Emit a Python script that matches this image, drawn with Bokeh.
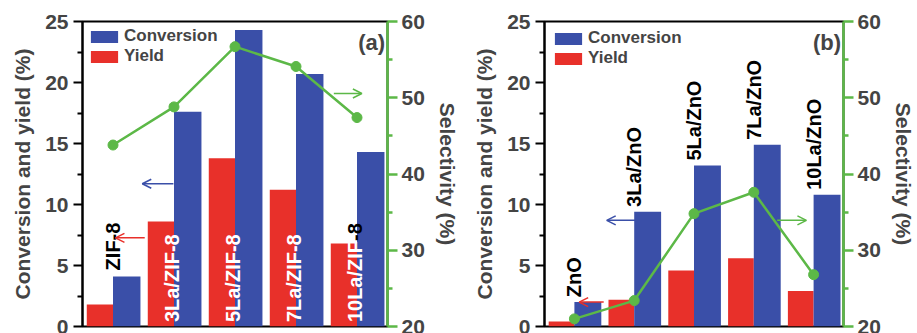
import numpy as np
from bokeh.plotting import figure
from bokeh.layouts import row
from bokeh.models import (Range1d, LinearAxis, Legend, LegendItem, Arrow, OpenHead,
                          Label, FixedTicker)
from bokeh.core.properties import value
from bokeh.embed import file_html
from bokeh.resources import INLINE

# ---- data ----
cats_a = ["ZIF-8", "3La/ZIF-8", "5La/ZIF-8", "7La/ZIF-8", "10La/ZIF-8"]
conv_a = [4.1, 17.6, 24.3, 20.7, 14.3]
yield_a = [1.8, 8.6, 13.8, 11.2, 6.8]
sel_a = [43.8, 48.8, 56.7, 54.1, 47.4]

cats_b = ["ZnO", "3La/ZnO", "5La/ZnO", "7La/ZnO", "10La/ZnO"]
conv_b = [2.0, 9.4, 13.2, 14.9, 10.8]
yield_b = [0.4, 2.2, 4.6, 5.6, 2.9]
sel_b = [21.0, 23.4, 34.8, 37.6, 26.8]

left_ticks = [0, 5, 10, 15, 20, 25]
right_ticks = [20, 30, 40, 50, 60]

# annotation arrows (x_start, y_start, x_end, y_end) on left-axis scale
arrows_a = {"blue": (0.99, 11.7, 0.48, 11.7), "red": (0.52, 7.27, 0.04, 7.27),
            "green": (3.62, 19.1, 4.08, 19.1)}
arrows_b = {"blue": (1.03, 8.7, 0.54, 8.7), "red": (0.49, 2.0, 0.08, 2.0),
            "green": (3.39, 8.7, 3.88, 8.7)}

BLUE = "#3a4fa8"
RED = "#e8302a"
GREEN = "#5cb847"
FONT = "Liberation Sans"


def panel(cats, conv, yld, sel, tag, arrows, width, bl, br, leg_margin, label_mode,
          r_label_standoff):
    p = figure(width=width, height=333, x_range=Range1d(-0.5, 4.5), y_range=Range1d(0, 25),
               output_backend="svg", toolbar_location=None,
               min_border_left=bl, min_border_right=br, min_border_top=21,
               min_border_bottom=7)
    p.extra_y_ranges = {"sel": Range1d(20, 60)}
    p.xaxis.visible = False
    p.grid.visible = False
    p.outline_line_color = "black"
    p.outline_line_width = 2

    x = np.arange(len(cats))
    rb = p.vbar(x=x - 0.215, top=yld, width=0.43, color=RED, line_color=None)
    bb = p.vbar(x=x + 0.225, top=conv, width=0.45, color=BLUE, line_color=None)

    # category labels
    lab_style = dict(angle=np.pi / 2, text_align="left", text_baseline="middle",
                     text_font=value(FONT), text_font_style="bold", text_font_size="20px")
    if label_mode == "a":
        p.text(x=[x[0]], y=[conv[0] + 0.5], text=[cats[0]], text_color="black", **lab_style)
        p.text(x=list(x[1:] - 0.04), y=[0.36] * 4, text=cats[1:4] + [cats[4][:-2]],
               text_color="white", **lab_style)
        # the tail of the last label shows dark above the red bar
        tail_units = 4.06 * 20 / 12.2
        p.text(x=[x[4] - 0.04], y=[0.36 + tail_units], text=[cats[4][-2:]],
               text_color="black", **lab_style)
    else:
        p.text(x=list(x), y=[c + 0.4 for c in conv], text=cats, text_color="black",
               **lab_style)

    p.line(x, sel, y_range_name="sel", color=GREEN, line_width=2.5)
    p.scatter(x, sel, y_range_name="sel", size=10, color=GREEN)

    for key, col in (("blue", BLUE), ("red", RED), ("green", GREEN)):
        xs, ys, xe, ye = arrows[key]
        p.add_layout(Arrow(end=OpenHead(size=9, line_color=col, line_width=1.5),
                           x_start=xs, y_start=ys, x_end=xe, y_end=ye,
                           line_color=col, line_width=1.5))

    p.add_layout(Label(x=4.46, y=23.3, text=tag, text_align="right", text_baseline="middle",
                       text_font=FONT, text_font_style="bold", text_font_size="22px"))

    # left axis
    ya = p.yaxis[0]
    ya.ticker = FixedTicker(ticks=left_ticks, minor_ticks=[2.5, 7.5, 12.5, 17.5, 22.5])
    ya.axis_label = "Conversion and yield (%)"
    ya.axis_label_text_font = FONT
    ya.axis_label_text_font_style = "bold"
    ya.axis_label_text_font_size = "21px"
    ya.axis_label_standoff = 8
    ya.major_label_text_font = FONT
    ya.major_label_text_font_style = "bold"
    ya.major_label_text_font_size = "21px"
    ya.major_label_standoff = 5
    ya.axis_line_width = 2
    ya.major_tick_line_width = 2
    ya.minor_tick_line_width = 2
    ya.major_tick_in = 0
    ya.major_tick_out = 9
    ya.minor_tick_in = 0
    ya.minor_tick_out = 5

    ra = LinearAxis(y_range_name="sel", axis_label="Selectivity (%)")
    ra.ticker = FixedTicker(ticks=right_ticks, minor_ticks=[25, 35, 45, 55])
    ra.axis_label_text_font = FONT
    ra.axis_label_text_font_style = "bold"
    ra.axis_label_text_font_size = "21px"
    ra.axis_label_standoff = r_label_standoff
    ra.major_label_text_font = FONT
    ra.major_label_text_font_style = "bold"
    ra.major_label_text_font_size = "21px"
    ra.major_label_standoff = 4
    ra.axis_line_color = GREEN
    ra.major_tick_line_color = GREEN
    ra.minor_tick_line_color = GREEN
    ra.axis_line_width = 2.5
    ra.major_tick_line_width = 2.5
    ra.minor_tick_line_width = 2.5
    ra.major_tick_in = 0
    ra.major_tick_out = 10
    ra.minor_tick_in = 0
    ra.minor_tick_out = 5
    p.add_layout(ra, "right")

    leg = Legend(items=[LegendItem(label="Conversion", renderers=[bb]),
                        LegendItem(label="Yield", renderers=[rb])],
                 location="top_left", margin=leg_margin, padding=0, spacing=0,
                 glyph_width=34, glyph_height=15, label_height=20, label_standoff=3,
                 border_line_color=None, background_fill_alpha=0,
                 label_text_font=FONT, label_text_font_style="bold",
                 label_text_font_size="17px")
    p.add_layout(leg)
    return p


pa = panel(cats_a, conv_a, yield_a, sel_a, "(a)", arrows_a, 466, 82, 79, 5, "a", 8)
pb = panel(cats_b, conv_b, yield_b, sel_b, "(b)", arrows_b, 451, 78, 66, 7, "b", 8)

layout = row(pa, pb)
open("out.html", "w").write(file_html(layout, INLINE))
